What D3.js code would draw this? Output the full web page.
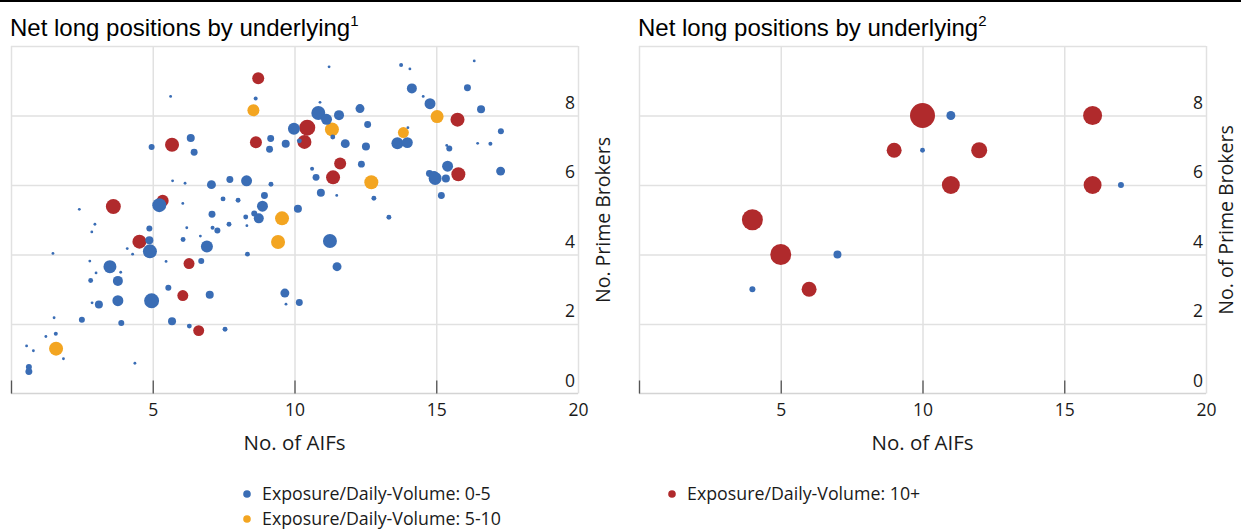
<!DOCTYPE html>
<html><head><meta charset="utf-8">
<script src="https://cdn.jsdelivr.net/npm/d3@7"></script>
<style>body{margin:0;background:#fff}</style>
</head><body>
<svg id="c" width="1241" height="529"></svg>
<script>
// ---------- data ----------
const xTickLabels = [5, 10, 15, 20];
const yTickLabels = [0, 2, 4, 6, 8];
const seriesNames = ["Exposure/Daily-Volume: 0-5", "Exposure/Daily-Volume: 5-10", "Exposure/Daily-Volume: 10+"];
const panelTitles = ["Net long positions by underlying", "Net long positions by underlying"];
const panelNotes = ["1", "2"];
const xTitles = ["No. of AIFs", "No. of AIFs"];
const yTitles = ["No. Prime Brokers", "No. of Prime Brokers"];

// [No. of AIFs, No. of Prime Brokers, bubble size]
const leftLow = [
 [8.63,8.49,4],[9.98,7.62,36],[6.34,7.35,16],[4.96,7.09,9],[6.46,6.94,12],[9.16,7.34,12],[9.12,7.03,12],
 [9.69,7.19,16],[7.07,6.01,20],[7.72,6.16,12],[8.31,6.12,30],[9.17,6.02,6],[5.23,5.42,49],[7.48,5.6,6],
 [8.01,5.56,6],[8.94,5.70,12],[8.87,5.39,30],[7.09,5.16,12],[8.28,5.08,6],[8.58,5.18,9],[8.74,5.04,25],
 [10.12,5.32,16],[4.88,4.75,9],[7.11,4.77,4],[7.28,4.69,9],[7.69,4.87,6],[4.88,4.41,16],[4.90,4.09,49],
 [6.07,4.43,6],[6.91,4.23,36],[8.34,4.01,6],[3.49,3.65,42],[6.71,3.81,9],[3.77,3.24,25],[2.81,3.25,6],
 [5.55,3.04,9],[7.01,2.84,16],[3.10,2.56,16],[3.77,2.67,30],[4.96,2.67,56],[9.66,2.89,20],[9.70,2.57,2],
 [10.17,2.62,12],[2.50,2.12,9],[3.89,2.03,9],[5.68,2.08,16],[6.29,1.94,6],[7.55,1.85,6],[0.63,0.76,9],
 [0.63,0.63,12],[11.25,4.39,49],[11.5,3.65,20],[13.33,5.07,6],[14.14,8.78,25],[16.10,8.80,12],[14.78,8.34,30],
 [16.58,8.18,16],[10.84,8.07,49],[11.13,7.89,30],[11.57,8.01,25],[12.31,8.2,20],[10.17,7.27,6],[11.35,7.38,6],
 [12.58,7.74,12],[11.79,7.19,20],[12.52,7.11,16],[13.63,7.2,36],[13.98,7.22,30],[15.46,7.05,9],[16.91,7.19,4],
 [17.28,7.55,9],[10.62,6.47,4],[10.76,6.22,12],[12.36,6.6,12],[10.93,5.78,16],[12.80,5.62,6],[14.76,6.33,12],
 [14.96,6.19,42],[14.92,6.26,25],[15.34,6.19,16],[15.40,6.54,30],[15.18,5.70,12],[17.27,6.40,20],
 [5.63,8.55,2],[5.70,6.12,2],[6.14,6.05,2],[2.41,5.30,2],[6.06,5.47,2],[2.96,4.87,2],[2.85,4.65,2],
 [6.2,4.77,2],[8.32,4.83,2],[4.10,4.17,2],[4.29,4.01,2],[6.68,4.53,2],[1.48,4.03,2],[2.78,3.81,2],
 [5.47,3.80,2],[3.0,3.47,2],[3.87,3.49,2],[2.86,2.61,2],[1.52,2.18,2],[1.58,1.72,4],[1.23,1.64,2],
 [0.55,1.37,2],[0.79,1.23,2],[1.85,1.0,2],[4.37,0.87,2],[11.22,9.40,2],[13.76,9.45,4],[14.07,9.34,2],
 [16.34,9.57,2],[14.54,8.55,2],[10.90,8.38,2],[14.0,7.65,2],[15.37,7.14,2],[16.46,7.2,2],[11.49,5.70,2]
];
const leftMid = [
 [8.55,8.15,36],[9.56,5.04,49],[9.42,4.36,49],[1.59,1.29,49],[15.03,7.97,42],[11.32,7.60,49],[13.84,7.51,30],[12.71,6.08,49]
];
const leftHigh = [
 [8.72,9.07,36],[5.68,7.16,49],[8.64,7.23,36],[3.61,5.38,56],[5.35,5.55,36],[4.53,4.37,49],[6.28,3.74,30],
 [6.06,2.82,30],[6.62,1.81,30],[15.75,7.88,49],[10.45,7.65,64],[10.35,7.24,49],[11.61,6.62,36],[11.36,6.22,49],[15.78,6.31,49]
];
const rightLow = [[11,8,20],[10,7,6],[17,6,9],[7,4,16],[4,3,9]];
const rightHigh = [[10,8,156],[16,8,90],[9,7,56],[12,7,64],[11,6,81],[16,6,81],[4,5,110],[5,4,110],[6,3,56]];

// ---------- drawing ----------
const colors = ["#3a6db5", "#f3a521", "#b02a2c"];
const FONT = "'Open Sans', 'Noto Sans', sans-serif";
const svg = d3.select("#c");
svg.append("rect").attr("x", 0).attr("y", 0).attr("width", 1241).attr("height", 2).attr("fill", "#000");

const rScale = d3.scaleSqrt().domain([0, 169]).range([0, 13]);
const yTop = 46, yBot = 393.5;

function panel(idx, x0, x1, layers, yTitleX) {
  const x = d3.scaleLinear().domain([0, 20]).range([x0, x1]);
  const y = d3.scaleLinear().domain([0, 10]).range([yBot, yTop]);
  const g = svg.append("g");

  const gh = g.append("g").attr("transform", `translate(${x0},0)`)
    .call(d3.axisLeft(y).tickValues([2, 4, 6, 8, 10]).tickSize(-(x1 - x0)).tickFormat(""));
  gh.select(".domain").remove();
  gh.selectAll("line").attr("stroke", "#e1e1e1").attr("stroke-width", 1.5);
  const gv = g.append("g").attr("transform", `translate(0,${yBot})`)
    .call(d3.axisBottom(x).tickValues([0, 5, 10, 15, 20]).tickSize(-(yBot - yTop)).tickFormat(""));
  gv.select(".domain").remove();
  gv.selectAll("line").attr("stroke", "#e1e1e1").attr("stroke-width", 1.5);
  g.append("line").attr("x1", x(0)).attr("x2", x(20)).attr("y1", y(0)).attr("y2", y(0))
    .attr("stroke", "#d4d4d4").attr("stroke-width", 1.5);
  const gt = g.append("g").attr("transform", `translate(0,${yBot})`)
    .call(d3.axisBottom(x).tickValues([0, 5, 10, 15]).tickSizeInner(-13).tickSizeOuter(0).tickFormat(""));
  gt.select(".domain").remove();
  gt.selectAll("line").attr("stroke", "#555").attr("stroke-width", 1.3);
  const gx = g.append("g").attr("transform", `translate(0,${yBot})`)
    .call(d3.axisBottom(x).tickValues(xTickLabels).tickSize(0).tickPadding(10));
  gx.select(".domain").remove();
  gx.selectAll("text").attr("font-family", FONT).attr("font-size", 17.5).attr("fill", "#1a1a1a");
  const gy = g.append("g").attr("transform", `translate(${x1 - 3},0)`)
    .call(d3.axisRight(y).tickValues(yTickLabels).tickSize(0).tickPadding(0));
  gy.select(".domain").remove();
  gy.selectAll("text").attr("font-family", FONT).attr("font-size", 17.5).attr("fill", "#1a1a1a")
    .attr("text-anchor", "end").attr("dy", "-0.42em");

  layers.forEach(([arr, ci]) => {
    g.append("g").selectAll("circle").data(arr).join("circle")
      .attr("cx", d => x(d[0])).attr("cy", d => y(d[1])).attr("r", d => rScale(d[2]))
      .attr("fill", colors[ci]);
  });

  const t = svg.append("text").attr("x", x0 - 1).attr("y", 36)
    .attr("font-family", "'Liberation Sans', Arial, sans-serif").attr("font-size", 24).attr("fill", "#000");
  t.append("tspan").text(panelTitles[idx]);
  t.append("tspan").attr("font-size", 15).attr("dy", -10).text(panelNotes[idx]);

  svg.append("text").attr("x", (x0 + x1) / 2).attr("y", 450).attr("text-anchor", "middle")
    .attr("font-family", FONT).attr("font-size", 20.5).attr("fill", "#1a1a1a").text(xTitles[idx]);
  svg.append("text").attr("transform", `translate(${yTitleX},220) rotate(-90)`).attr("text-anchor", "middle")
    .attr("font-family", FONT).attr("font-size", 19.5).attr("fill", "#1a1a1a").text(yTitles[idx]);
}

panel(0, 11, 578, [[leftHigh, 2], [leftMid, 1], [leftLow, 0]], 610);
panel(1, 639, 1206, [[rightHigh, 2], [rightLow, 0]], 1233);

const legendItems = [
  {name: seriesNames[0], c: colors[0], x: 247, y: 494},
  {name: seriesNames[1], c: colors[1], x: 247, y: 519},
  {name: seriesNames[2], c: colors[2], x: 672, y: 494}
];
const lg = svg.append("g").selectAll("g").data(legendItems).join("g");
lg.append("circle").attr("cx", d => d.x).attr("cy", d => d.y).attr("r", 3.8).attr("fill", d => d.c);
lg.append("text").attr("x", d => d.x + 15).attr("y", d => d.y + 6)
  .attr("font-family", FONT).attr("font-size", 17.8).attr("fill", "#1a1a1a").text(d => d.name);
</script>
</body></html>
